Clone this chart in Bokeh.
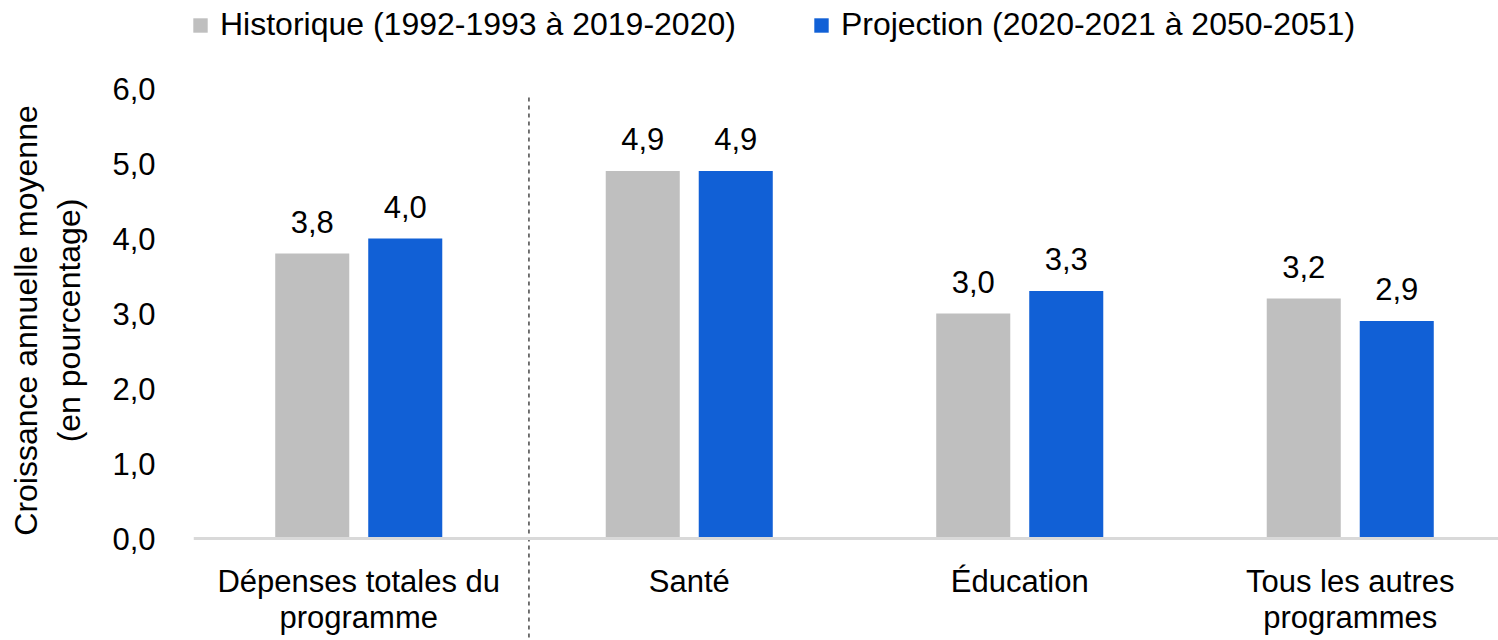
from bokeh.plotting import figure
from bokeh.models import (Range1d, FixedTicker, Span, LabelSet, ColumnDataSource,
                          Legend, LegendItem, CustomJSTickFormatter)
from bokeh.core.properties import value
from bokeh.embed import file_html
from bokeh.resources import INLINE

# ---- data ----
categories = ["Dépenses totales du\nprogramme", "Santé", "Éducation", "Tous les autres\nprogrammes"]
historique = [3.8, 4.9, 3.0, 3.2]
projection = [4.0, 4.9, 3.3, 2.9]
series_names = ["Historique (1992-1993 à 2019-2020)", "Projection (2020-2021 à 2050-2051)"]
y_ticks = [0, 1, 2, 3, 4, 5, 6]
y_title = "Croissance annuelle moyenne\n(en pourcentage)"

# ---- style / layout ----
FONT = "Liberation Sans"
GRAY = "#BFBFBF"
BLUE = "#1160D6"
W, H = 1498, 640
LEFT = 193
UNIT = 330.5          # px per category
PX_PER_Y = 75.0       # px per y unit
ZERO_FROM_TOP = 538   # px from figure top to y=0
BAR_W = 0.224
OFFSET = 0.1407
DIVIDER_SHIFT = 0.015
LINE_GAP = 36         # px between category label lines

x_end = (W - LEFT) / UNIT
y_top = ZERO_FROM_TOP / PX_PER_Y
y_bot = -(H - ZERO_FROM_TOP) / PX_PER_Y

p = figure(width=W, height=H, output_backend="svg", toolbar_location=None,
           x_axis_location=None, x_range=Range1d(0, x_end), y_range=Range1d(y_bot, y_top),
           min_border_left=LEFT, min_border_right=0, min_border_top=0, min_border_bottom=0)
p.outline_line_color = None
p.grid.visible = False
p.background_fill_color = "white"
p.border_fill_color = "white"

pos = [i + 0.5 for i in range(len(categories))]
fmt = lambda v: f"{v:.1f}".replace(".", ",")

src_h = ColumnDataSource(dict(x=[c - OFFSET for c in pos], y=historique,
                              lbl=[fmt(v) for v in historique]))
src_p = ColumnDataSource(dict(x=[c + OFFSET for c in pos], y=projection,
                              lbl=[fmt(v) for v in projection]))

r1 = p.vbar(x="x", top="y", bottom=0, width=BAR_W, source=src_h, fill_color=GRAY, line_color=None)
r2 = p.vbar(x="x", top="y", bottom=0, width=BAR_W, source=src_p, fill_color=BLUE, line_color=None)

# x axis baseline
p.add_layout(Span(location=0, dimension="width", line_color="#D9D9D9", line_width=3))

# dashed divider between first category and others
div_x = pos[0] + 0.5 + DIVIDER_SHIFT
p.segment(x0=[div_x], y0=[y_ticks[-1] - 0.12], x1=[div_x], y1=[y_bot],
          line_color="#1a1a1a", line_width=1.2, line_dash="4 4")

# value labels
for src in (src_h, src_p):
    p.add_layout(LabelSet(x="x", y="y", text="lbl", source=src, text_align="center",
                          text_baseline="alphabetic", y_offset=21, text_font=value(FONT),
                          text_font_size="31px", text_color="black"))

# category labels (each line centred)
lines = [c.split("\n") for c in categories]
n_lines = max(len(l) for l in lines)
for k in range(n_lines):
    xs = [x for x, l in zip(pos, lines) if len(l) > k]
    ts = [l[k] for l in lines if len(l) > k]
    src_c = ColumnDataSource(dict(x=xs, y=[0] * len(xs), t=ts))
    p.add_layout(LabelSet(x="x", y="y", text="t", source=src_c, text_align="center",
                          text_baseline="top", y_offset=-25 - k * LINE_GAP, text_font=value(FONT),
                          text_font_size="31px", text_color="black"))

# y axis
ax = p.yaxis[0]
ax.ticker = FixedTicker(ticks=y_ticks)
ax.formatter = CustomJSTickFormatter(code="return tick.toFixed(1).replace('.', ',');")
ax.axis_line_color = None
ax.major_tick_line_color = None
ax.minor_tick_line_color = None
ax.major_tick_out = 0
ax.major_tick_in = 0
ax.major_label_standoff = 38
ax.major_label_text_font = FONT
ax.major_label_text_font_size = "31px"
ax.major_label_text_color = "black"
ax.axis_label = y_title
ax.axis_label_text_font = FONT
ax.axis_label_text_font_size = "32px"
ax.axis_label_text_font_style = "normal"
ax.axis_label_text_color = "black"
ax.axis_label_standoff = 22

legend = Legend(items=[LegendItem(label=series_names[0], renderers=[r1]),
                       LegendItem(label=series_names[1], renderers=[r2])],
                orientation="horizontal", location=(-2, 597),
                label_text_font=FONT, label_text_font_size="32px", label_text_color="black",
                glyph_width=18, glyph_height=18, label_standoff=11, spacing=76,
                padding=0, margin=0, border_line_alpha=0, background_fill_alpha=0)
p.add_layout(legend)

open("out.html", "w").write(file_html(p, INLINE))
